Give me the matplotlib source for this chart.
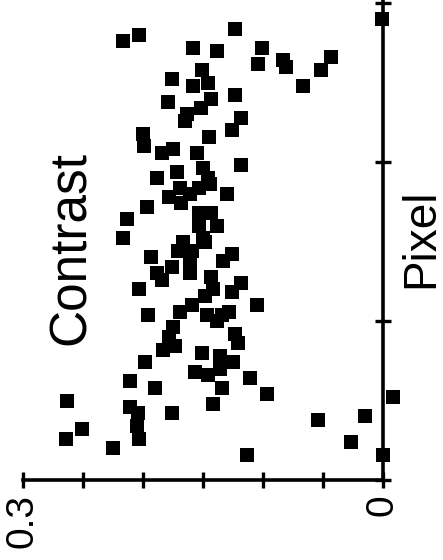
import matplotlib
matplotlib.use("Agg")
import matplotlib.pyplot as plt

plt.rcParams['font.family'] = ['Liberation Sans', 'DejaVu Sans']

# Data (contrast vs pixel index)
contrast = [0.001, 0.203, 0.217, 0.123, 0.158, 0.138, 0.101, 0.104, 0.083, 0.081,
            0.043, 0.052, 0.067, 0.176, 0.151, 0.158, 0.146, 0.143, 0.179, 0.123,
            0.163, 0.152, 0.165, 0.118, 0.126, 0.200, 0.199, 0.184, 0.175, 0.145,
            0.155, 0.150, 0.146, 0.118, 0.188, 0.172, 0.169, 0.161, 0.168, 0.178,
            0.130, 0.197, 0.213, 0.217, 0.153, 0.144, 0.153, 0.143, 0.138, 0.153,
            0.150, 0.167, 0.171, 0.159, 0.148, 0.126, 0.133, 0.176, 0.161, 0.143,
            0.142, 0.118, 0.126, 0.105, 0.148, 0.159, 0.169, 0.147, 0.134, 0.128,
            0.193, 0.188, 0.184, 0.203, 0.196, 0.138, 0.175, 0.178, 0.173, 0.183,
            0.123, 0.121, 0.151, 0.136, 0.125, 0.157, 0.146, 0.136, 0.134, 0.111,
            0.097, 0.142, 0.176, 0.113, 0.198, 0.211, 0.190, 0.263, 0.211, 0.204,
            0.205, 0.203, 0.251, 0.264, 0.225, 0.054, 0.015, 0.027, 0.000, -0.008,
            0.161]
pixel = [145, 140, 138, 142, 136, 135, 136, 131, 132, 130,
         133, 129, 124, 126, 129, 124, 125, 120, 119, 121,
         115, 117, 113, 114, 110, 109, 105, 103, 104, 108,
         103, 98, 95, 99, 95, 97, 92, 90, 87, 89,
         90, 86, 82, 76, 92, 93, 84, 84, 80, 80,
         76, 75, 72, 72, 75, 71, 69, 67, 65, 64,
         60, 62, 59, 55, 58, 55, 53, 52, 52, 53,
         70, 65, 63, 60, 52, 50, 48, 45, 42, 41,
         46, 43, 40, 39, 37, 34, 33, 35, 29, 32,
         27, 24, 21, 8, 37, 31, 29, 25, 23, 21,
         17, 13, 16, 13, 10, 19, 20, 12, 8, 26,
         69]

contrast_ticks = [0, 0.05, 0.1, 0.15, 0.2, 0.25, 0.3]
contrast_ticklabels = ['0', '', '', '', '', '', '0.3']
pixel_ticks = [0, 50, 100, 150]

W, H = 443, 560
fig = plt.figure(figsize=(W / 100, H / 100), dpi=100)
ax = fig.add_axes([23 / W, 80 / H, (W - 23) / W, 480 / H])
ax.set_facecolor('none')

ax.scatter(contrast, pixel, marker='s', s=112, color='black', linewidths=0, zorder=3,
           clip_on=False)

ax.set_xlim(0.3, -0.05)
ax.set_ylim(0, 151)

for s in ['left', 'top']:
    ax.spines[s].set_visible(False)
ax.spines['right'].set_position(('data', 0))
ax.spines['right'].set_bounds(0, 151)
ax.spines['bottom'].set_bounds(0, 0.3)
ax.spines['right'].set_linewidth(2.6)
ax.spines['bottom'].set_linewidth(2.6)

ax.set_xticks(contrast_ticks)
ax.set_xticklabels(contrast_ticklabels, rotation=90, fontsize=28)
ax.tick_params(axis='x', direction='inout', length=12, width=2.4, pad=4)
ax.yaxis.set_ticks_position('right')
ax.set_yticks(pixel_ticks)
ax.set_yticklabels([])
ax.tick_params(axis='y', direction='inout', length=12, width=2.4)

fig.text(71 / W, 1 - 248 / H, 'Contrast', rotation=90, fontsize=37,
         ha='center', va='center')
fig.text(421 / W, 1 - 238 / H, 'Pixel', rotation=90, fontsize=33,
         ha='center', va='center')

fig.savefig('out.png', dpi=100)
